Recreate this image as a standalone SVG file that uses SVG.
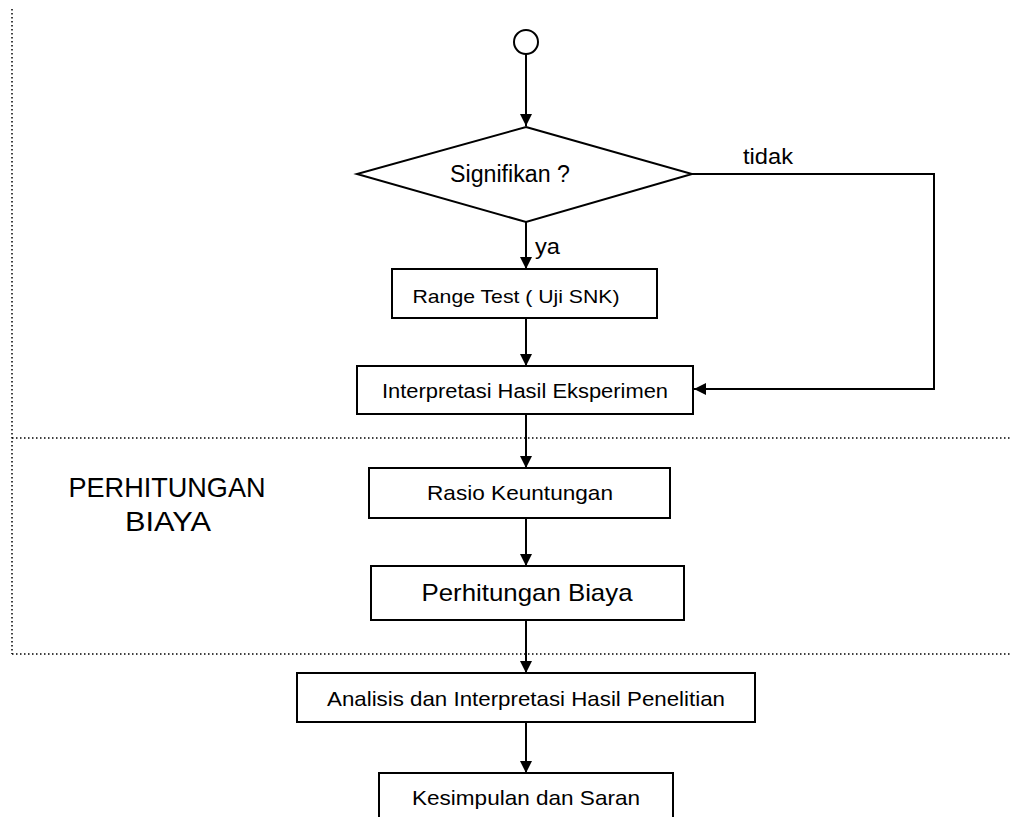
<svg xmlns="http://www.w3.org/2000/svg" width="1011" height="817" viewBox="0 0 1011 817">
<style>
.box{fill:#fff;stroke:#000;stroke-width:2}
.con{fill:none;stroke:#000;stroke-width:2}
.dot{fill:none;stroke:#000;stroke-width:1.5;stroke-dasharray:1.5 2.5}
.t{font-family:"Liberation Sans",Arial,sans-serif;fill:#000;text-anchor:middle}
.lbl{font-family:"Liberation Sans",Arial,sans-serif;fill:#000;font-size:22px}
</style>
<defs>
<marker id="arr" markerUnits="userSpaceOnUse" markerWidth="12" markerHeight="12" viewBox="0 0 10 10" refX="10" refY="5" orient="auto">
<path d="M0,0 L10,5 L0,10 z" fill="#000"/>
</marker>
</defs>
<rect width="1011" height="817" fill="#fff"/>
<g id="section-lines">
<path class="dot" d="M12,9 L12,654"/>
<path class="dot" d="M12,438 L1011,438"/>
<path class="dot" d="M12,654 L1011,654"/>
</g>
<g id="section-label">
<text class="t" x="167" y="497" font-size="28" textLength="197" lengthAdjust="spacingAndGlyphs">PERHITUNGAN</text>
<text class="t" x="168" y="531" font-size="28" textLength="86" lengthAdjust="spacingAndGlyphs">BIAYA</text>
</g>
<g id="connectors">
<path class="con" d="M526,54 L526,126" marker-end="url(#arr)"/>
<path class="con" d="M526,222 L526,269" marker-end="url(#arr)"/>
<path class="con" d="M526,318 L526,366" marker-end="url(#arr)"/>
<path class="con" d="M526,414 L526,468" marker-end="url(#arr)"/>
<path class="con" d="M526,518 L526,566" marker-end="url(#arr)"/>
<path class="con" d="M526,620 L526,673" marker-end="url(#arr)"/>
<path class="con" d="M526,722 L526,773" marker-end="url(#arr)"/>
<path class="con" d="M692,174 L934,174 L934,389 L694,389" marker-end="url(#arr)"/>
<text class="lbl" x="743" y="164" textLength="50" lengthAdjust="spacingAndGlyphs">tidak</text>
<text class="lbl" x="535" y="254" textLength="25" lengthAdjust="spacingAndGlyphs">ya</text>
</g>
<g id="start">
<circle cx="526" cy="42" r="12" class="box"/>
</g>
<g id="decision">
<polygon class="box" points="526,127 692,174 526,222 357,174"/>
<text class="t" x="510" y="182" font-size="23" textLength="120" lengthAdjust="spacingAndGlyphs">Signifikan ?</text>
</g>
<g id="range-test">
<rect class="box" x="392" y="269" width="265" height="49"/>
<text class="t" x="516" y="303" font-size="19" textLength="207" lengthAdjust="spacingAndGlyphs">Range Test ( Uji SNK)</text>
</g>
<g id="interpretasi">
<rect class="box" x="357" y="366" width="336" height="48"/>
<text class="t" x="525" y="398" font-size="20" textLength="286" lengthAdjust="spacingAndGlyphs">Interpretasi Hasil Eksperimen</text>
</g>
<g id="rasio">
<rect class="box" x="369" y="468" width="301" height="50"/>
<text class="t" x="520" y="500" font-size="21" textLength="186" lengthAdjust="spacingAndGlyphs">Rasio Keuntungan</text>
</g>
<g id="perhitungan">
<rect class="box" x="371" y="566" width="313" height="54"/>
<text class="t" x="527" y="601" font-size="24" textLength="211" lengthAdjust="spacingAndGlyphs">Perhitungan Biaya</text>
</g>
<g id="analisis">
<rect class="box" x="297" y="673" width="458" height="49"/>
<text class="t" x="526" y="706" font-size="21" textLength="398" lengthAdjust="spacingAndGlyphs">Analisis dan Interpretasi Hasil Penelitian</text>
</g>
<g id="kesimpulan">
<rect class="box" x="379" y="773" width="294" height="60"/>
<text class="t" x="526" y="805" font-size="21" textLength="228" lengthAdjust="spacingAndGlyphs">Kesimpulan dan Saran</text>
</g>
</svg>
